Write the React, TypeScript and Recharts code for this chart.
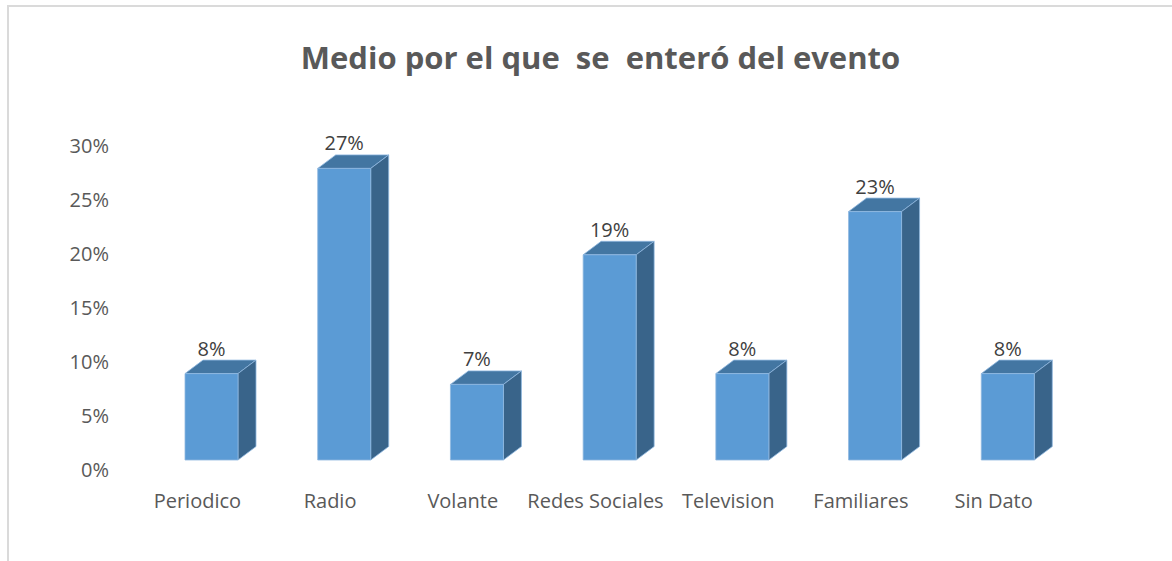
import React from "react";
import { BarChart, Bar, XAxis, YAxis, LabelList, Text } from "recharts";

const categories = ["Periodico", "Radio", "Volante", "Redes Sociales", "Television", "Familiares", "Sin Dato"];
const shares = [8, 27, 7, 19, 8, 23, 8];
const yTicks = [0, 5, 10, 15, 20, 25, 30];
const titleText = "Medio por el que\u00a0\u00a0se\u00a0\u00a0enteró del evento";

const rows = categories.map((name, i) => ({ name, share: shares[i] }));

const FONT = "'Open Sans', Lato, sans-serif";
const SHIFT_X = 14;
const SHIFT_Y = -10;
const DEPTH_X = 18;
const DEPTH_Y = 13.5;

const Box3D = (props: any) => {
  const { x, y, width, height } = props;
  const l = x + SHIFT_X;
  const t = y + SHIFT_Y;
  const r = l + width;
  const b = t + height;
  const edge = { stroke: "#8FB8E0", strokeWidth: 0.8, strokeLinejoin: "round" as const };
  return (
    <g>
      <polygon
        points={`${l},${t} ${r},${t} ${r + DEPTH_X},${t - DEPTH_Y} ${l + DEPTH_X},${t - DEPTH_Y}`}
        fill="#4376A2"
        {...edge}
      />
      <polygon
        points={`${r},${t} ${r + DEPTH_X},${t - DEPTH_Y} ${r + DEPTH_X},${b - DEPTH_Y} ${r},${b}`}
        fill="#39648A"
        {...edge}
      />
      <rect x={l} y={t} width={width} height={height} fill="#5B9BD5" {...edge} />
    </g>
  );
};

const ValueLabel = (props: any) => {
  const { x, y, width, value } = props;
  return (
    <text
      x={x + SHIFT_X + width / 2}
      y={y + SHIFT_Y - 18}
      textAnchor="middle"
      fontFamily={FONT}
      fontSize={20}
      fill="#404040"
    >
      {`${value}%`}
    </text>
  );
};

const CategoryTick = (props: any) => {
  const { x, y, payload } = props;
  return (
    <Text
      x={x}
      y={y}
      width={120}
      lineHeight={29}
      textAnchor="middle"
      verticalAnchor="start"
      fontFamily={FONT}
      fontSize={20}
      fill="#595959"
    >
      {payload.value}
    </Text>
  );
};

export default function App() {
  return (
    <div
      style={{
        position: "absolute",
        left: 0,
        top: 0,
        width: 1172,
        height: 561,
        background: "#fff",
        overflow: "hidden",
      }}
    >
      <div
        style={{
          position: "absolute",
          left: 7,
          top: 5,
          width: 1165,
          height: 556,
          borderLeft: "2px solid #DADADA",
          borderTop: "2px solid #DADADA",
          boxSizing: "border-box",
        }}
      />
      <BarChart
        width={1172}
        height={561}
        data={rows}
        margin={{ top: 146, right: 112, bottom: 61, left: 71 }}
        style={{ position: "absolute", left: 0, top: 0 }}
      >
        <text
          x={600.5}
          y={69}
          textAnchor="middle"
          fontFamily={FONT}
          fontWeight={700}
          fontSize={31}
          fill="#595959"
        >
          {titleText}
        </text>
        <XAxis
          dataKey="name"
          interval={0}
          height={30}
          axisLine={false}
          tickLine={false}
          tick={<CategoryTick />}
          tickMargin={18}
        />
        <YAxis
          width={60}
          domain={[0, 30]}
          ticks={yTicks}
          axisLine={false}
          tickLine={false}
          tickMargin={16}
          tickFormatter={(v: number) => `${v}%`}
          tick={{ fontFamily: FONT, fontSize: 20, fill: "#595959" }}
        />
        <Bar dataKey="share" barSize={53} shape={<Box3D />} isAnimationActive={false}>
          <LabelList dataKey="share" content={<ValueLabel />} />
        </Bar>
      </BarChart>
    </div>
  );
}
